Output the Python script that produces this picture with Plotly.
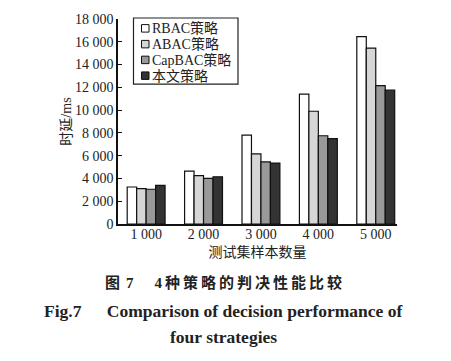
import plotly.graph_objects as go

categories = ["1 000", "2 000", "3 000", "4 000", "5 000"]
series_names = ["RBAC策略", "ABAC策略", "CapBAC策略", "本文策略"]
rbac = [3250, 4650, 7800, 11400, 16450]
abac = [3100, 4250, 6150, 9900, 15450]
capbac = [3050, 4000, 5450, 7750, 12150]
ours = [3400, 4150, 5350, 7500, 11750]
y_tickvals = [0, 2000, 4000, 6000, 8000, 10000, 12000, 14000, 16000, 18000]
y_ticktext = ["0", "2 000", "4 000", "6 000", "8 000", "10 000", "12 000", "14 000", "16 000", "18 000"]
colors = ["#ffffff", "#d6d6d6", "#999999", "#333333"]

FONT = "Liberation Serif, Noto Sans CJK SC, serif"
TXT = "#222222"
W, H = 451, 361
ML, MR, MT, MB = 118, 54, 16, 137
PW, PH = W - ML - MR, H - MT - MB


def px_x(p):
    return (p - ML) / PW


def px_y(p):
    return (H - MB - p) / PH


x = list(range(len(categories)))

fig = go.Figure()
for name, vals, c in zip(series_names, [rbac, abac, capbac, ours], colors):
    fig.add_trace(go.Bar(x=x, y=vals, name=name, showlegend=False,
                         marker=dict(color=c, line=dict(color="#111", width=1.2))))

fig.update_layout(
    width=W, height=H,
    margin=dict(l=ML, r=MR, t=MT, b=MB),
    paper_bgcolor="white", plot_bgcolor="white",
    barmode="group", bargap=0.34, bargroupgap=0,
    font=dict(family=FONT, size=14, color=TXT),
    showlegend=False,
    xaxis=dict(range=[-0.49, 4.37], tickvals=x, ticktext=categories,
               showline=True, linecolor="#111", linewidth=1.5, ticks="",
               ticklabelstandoff=-4,
               showgrid=False, zeroline=False, tickfont=dict(color=TXT, size=14),
               title=dict(text="测试集样本数量", font=dict(family=FONT, size=14, color=TXT), standoff=7)),
    yaxis=dict(range=[0, 18000], tickvals=y_tickvals, ticktext=y_ticktext,
               showline=True, linecolor="#111", linewidth=1.5, ticks="inside", ticklen=4,
               tickcolor="#111", showgrid=False, zeroline=False, tickfont=dict(color=TXT, size=14),
               title=dict(text="时延/ms", font=dict(family=FONT, size=14, color=TXT), standoff=0)),
)

# legend drawn as a box with swatches
fig.add_shape(type="rect", xref="paper", yref="paper",
              x0=px_x(133.5), x1=px_x(238), y0=px_y(82), y1=px_y(15),
              line=dict(color="#222", width=1.2), fillcolor="white", layer="above")
row_y = [25.5, 41.5, 57.5, 73.5]
for name, c, ry in zip(series_names, colors, row_y):
    fig.add_shape(type="rect", xref="paper", yref="paper",
                  x0=px_x(141.5), x1=px_x(149), y0=px_y(ry + 3.8), y1=px_y(ry - 3.8),
                  line=dict(color="#111", width=1), fillcolor=c, layer="above")
    fig.add_annotation(text=name, xref="paper", yref="paper", x=px_x(150), y=px_y(ry),
                       xanchor="left", yanchor="middle", showarrow=False,
                       font=dict(family=FONT, size=14, color=TXT))

cx = px_x(223)
fig.add_annotation(text="<b>图\u2009\u20097\u2003\u2009\u20094\u2009种\u2009策\u2009略\u2009的\u2009判\u2009决\u2009性\u2009能\u2009比\u2009较</b>",
                   xref="paper", yref="paper", x=cx, y=px_y(283), xanchor="center", yanchor="middle",
                   showarrow=False, font=dict(family=FONT, size=15, color=TXT))
fig.add_annotation(text="<b>Fig.7\u2003\u2009 Comparison of decision performance of</b>",
                   xref="paper", yref="paper", x=cx, y=px_y(312), xanchor="center", yanchor="middle",
                   showarrow=False, font=dict(family=FONT, size=17.5, color=TXT))
fig.add_annotation(text="<b>four strategies</b>", xref="paper", yref="paper",
                   x=cx, y=px_y(339), xanchor="center", yanchor="middle", showarrow=False,
                   font=dict(family=FONT, size=17.5, color=TXT))

fig.write_html("out.html", config={"displayModeBar": False},
               post_script="document.body.style.margin='0';")
